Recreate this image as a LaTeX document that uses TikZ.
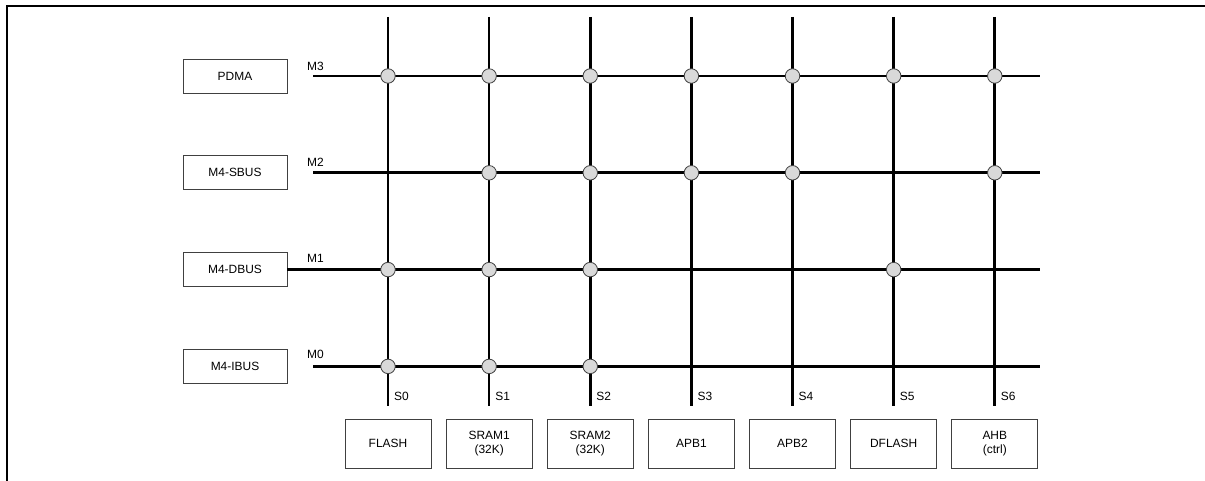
\documentclass[tikz,border=0pt]{standalone}
\usepackage{fontspec}
\setmainfont{Liberation Sans}
\usetikzlibrary{positioning}

\begin{document}
\begin{tikzpicture}[
  x=1bp, y=1bp,
  font=\fontsize{12}{14}\selectfont,
  node distance=62bp,
  mst/.style={draw=black!75, line width=0.8bp, minimum width=104bp, minimum height=34bp, inner sep=0pt},
  slv/.style={draw=black!75, line width=0.8bp, minimum width=86bp, minimum height=49bp, inner sep=0pt, align=center},
  bus/.style={line width=2.6bp},
  jn/.style={circle, draw=black!75, fill=black!15, line width=0.8bp, minimum size=14.5bp, inner sep=0pt},
  lbl/.style={inner sep=1bp, font=\fontsize{12}{14}\selectfont}
]
\useasboundingbox (0,0) rectangle (1205,481);

% frame
\coordinate (fb) at (7,0);
\coordinate (fc) at (7,475);
\coordinate (fr) at (1205,475);
\draw[line width=2.6bp] (fb) -- (fc) -- (fr);

% masters
\node[mst] (pdma) at (235,405) {PDMA};
\node[mst, below=of pdma] (sbus) {M4-SBUS};
\node[mst, below=of sbus] (dbus) {M4-DBUS};
\node[mst, below=of dbus] (ibus) {M4-IBUS};

% slaves
\node[slv] (flash) at (388,37.5) {FLASH};
\node[slv, right=14.33bp of flash] (sram1) {SRAM1\\(32K)};
\node[slv, right=14.33bp of sram1] (sram2) {SRAM2\\(32K)};
\node[slv, right=14.33bp of sram2] (apb1) {APB1};
\node[slv, right=14.33bp of apb1] (apb2) {APB2};
\node[slv, right=14.33bp of apb2] (dflash) {DFLASH};
\node[slv, right=14.33bp of dflash] (ahb) {AHB\\(ctrl)};

% bus ends
\coordinate (m3l) at (313,0 |- pdma);
\coordinate (m3r) at (1040,0 |- pdma);
\coordinate (m2l) at (313,0 |- sbus);
\coordinate (m2r) at (1040,0 |- sbus);
\coordinate (m1r) at (1040,0 |- dbus);
\coordinate (m0l) at (313,0 |- ibus);
\coordinate (m0r) at (1040,0 |- ibus);

\coordinate (s0t) at (flash |- 0,464);  \coordinate (s0b) at (flash |- 0,75);
\coordinate (s1t) at (sram1 |- 0,464);  \coordinate (s1b) at (sram1 |- 0,75);
\coordinate (s2t) at (sram2 |- 0,464);  \coordinate (s2b) at (sram2 |- 0,75);
\coordinate (s3t) at (apb1 |- 0,464);   \coordinate (s3b) at (apb1 |- 0,75);
\coordinate (s4t) at (apb2 |- 0,464);   \coordinate (s4b) at (apb2 |- 0,75);
\coordinate (s5t) at (dflash |- 0,464); \coordinate (s5b) at (dflash |- 0,75);
\coordinate (s6t) at (ahb |- 0,464);    \coordinate (s6b) at (ahb |- 0,75);

\draw[bus] (s0t) -- (s0b);
\draw[bus] (s1t) -- (s1b);
\draw[bus] (s2t) -- (s2b);
\draw[bus] (s3t) -- (s3b);
\draw[bus] (s4t) -- (s4b);
\draw[bus] (s5t) -- (s5b);
\draw[bus] (s6t) -- (s6b);

\draw[bus] (m3l) -- (m3r);
\draw[bus] (m2l) -- (m2r);
\draw[bus] (dbus.east) -- (m1r);
\draw[bus] (m0l) -- (m0r);

% labels
\node[lbl, anchor=base west] (lm3) at (306,410) {M3};
\node[lbl, anchor=base west] (lm2) at (306,314) {M2};
\node[lbl, anchor=base west] (lm1) at (306,218) {M1};
\node[lbl, anchor=base west] (lm0) at (306,122) {M0};

\node[lbl, anchor=west] (ls0) at ([xshift=5bp]s0b |- 0,85) {S0};
\node[lbl, anchor=west] (ls1) at ([xshift=5bp]s1b |- 0,85) {S1};
\node[lbl, anchor=west] (ls2) at ([xshift=5bp]s2b |- 0,85) {S2};
\node[lbl, anchor=west] (ls3) at ([xshift=5bp]s3b |- 0,85) {S3};
\node[lbl, anchor=west] (ls4) at ([xshift=5bp]s4b |- 0,85) {S4};
\node[lbl, anchor=west] (ls5) at ([xshift=5bp]s5b |- 0,85) {S5};
\node[lbl, anchor=west] (ls6) at ([xshift=5bp]s6b |- 0,85) {S6};

% junctions
\node[jn] (j30) at (flash |- pdma) {};
\node[jn] (j31) at (sram1 |- pdma) {};
\node[jn] (j32) at (sram2 |- pdma) {};
\node[jn] (j33) at (apb1 |- pdma) {};
\node[jn] (j34) at (apb2 |- pdma) {};
\node[jn] (j35) at (dflash |- pdma) {};
\node[jn] (j36) at (ahb |- pdma) {};

\node[jn] (j21) at (sram1 |- sbus) {};
\node[jn] (j22) at (sram2 |- sbus) {};
\node[jn] (j23) at (apb1 |- sbus) {};
\node[jn] (j24) at (apb2 |- sbus) {};
\node[jn] (j26) at (ahb |- sbus) {};

\node[jn] (j10) at (flash |- dbus) {};
\node[jn] (j11) at (sram1 |- dbus) {};
\node[jn] (j12) at (sram2 |- dbus) {};
\node[jn] (j15) at (dflash |- dbus) {};

\node[jn] (j00) at (flash |- ibus) {};
\node[jn] (j01) at (sram1 |- ibus) {};
\node[jn] (j02) at (sram2 |- ibus) {};

\end{tikzpicture}
\end{document}
